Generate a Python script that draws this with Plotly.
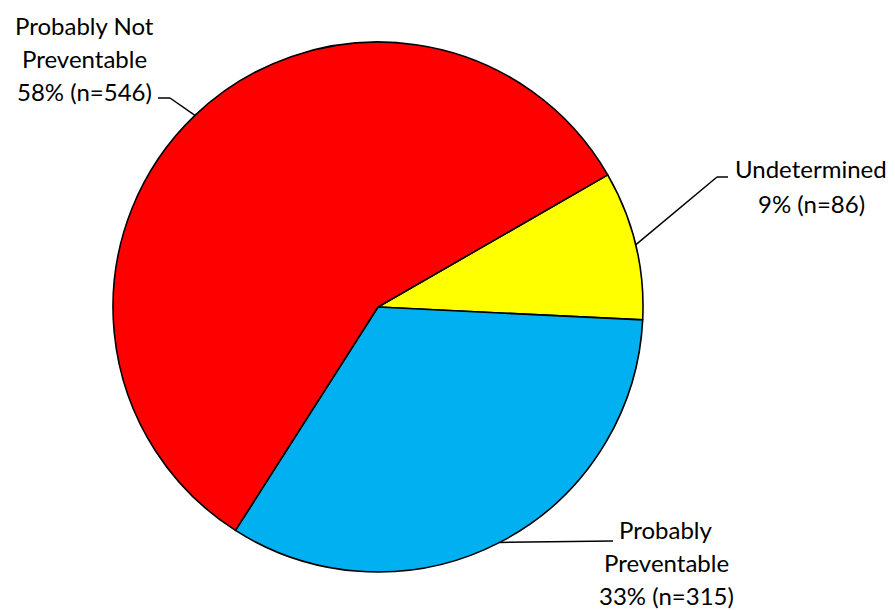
import math
import plotly.graph_objects as go

# ---- data ----
categories = ["Undetermined", "Probably Preventable", "Probably Not Preventable"]
counts = [86, 315, 546]
percents = ["9%", "33%", "58%"]
colors = ["#FFFF00", "#00B0F0", "#FF0000"]

W, H = 895, 610
CX, CY, R = 378, 307, 265
ROTATION = 60.1  # degrees clockwise from 12 o'clock where first slice starts

fig = go.Figure(go.Pie(
    labels=categories,
    values=counts,
    sort=False,
    direction="clockwise",
    rotation=ROTATION,
    marker=dict(colors=colors, line=dict(color="black", width=1.6)),
    textinfo="none",
    hoverinfo="label+value+percent",
    domain=dict(x=[(CX - R) / W, (CX + R) / W], y=[1 - (CY + R) / H, 1 - (CY - R) / H]),
    showlegend=False,
))

def px(x):
    return x / W

def py(y):
    return 1 - y / H

total = sum(counts)
label_layout = {
    "Undetermined": dict(lines=["Undetermined", "9% (n=86)"], cx=811, base=[176, 211],
                         elbow=(717, 177), tail=(728, 177)),
    "Probably Preventable": dict(lines=["Probably", "Preventable", "33% (n=315)"], cx=666,
                                 base=[537, 570, 603], elbow=None, tail=(613, 541)),
    "Probably Not Preventable": dict(lines=["Probably Not", "Preventable", "58% (n=546)"], cx=84,
                                     base=[33, 66, 99], elbow=(170, 98), tail=(158, 98)),
}

annotations = []
shapes = []
cum = 0.0
start_math = 90 - ROTATION
FONT = dict(family="Lato, 'Noto Sans', sans-serif", size=24, color="black")
for cat, n in zip(categories, counts):
    frac = n / total
    mid = start_math - (cum + frac / 2) * 360
    cum += frac
    ex = CX + R * math.cos(math.radians(mid))
    ey = CY - R * math.sin(math.radians(mid))
    L = label_layout[cat]
    pts = [(ex, ey)]
    if L["elbow"]:
        pts.append(L["elbow"])
    pts.append(L["tail"])
    for (x0, y0), (x1, y1) in zip(pts[:-1], pts[1:]):
        shapes.append(dict(type="line", xref="paper", yref="paper",
                           x0=px(x0), y0=py(y0), x1=px(x1), y1=py(y1),
                           line=dict(color="black", width=1.5)))
    for line, b in zip(L["lines"], L["base"]):
        annotations.append(dict(text=line, x=px(L["cx"]), y=py(b - 8), xref="paper", yref="paper",
                                xanchor="center", yanchor="middle", showarrow=False, font=FONT))

fig.update_layout(
    width=W, height=H,
    margin=dict(l=0, r=0, t=0, b=0),
    paper_bgcolor="white", plot_bgcolor="white",
    annotations=annotations, shapes=shapes,
)

fig.write_html("out.html")
